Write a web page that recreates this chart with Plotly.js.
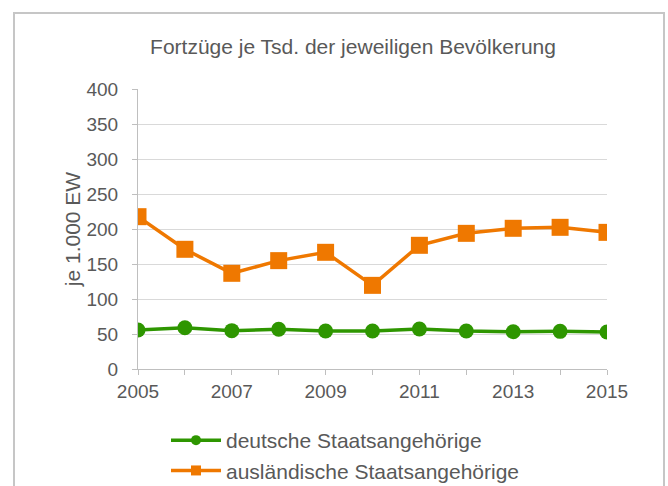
<!DOCTYPE html>
<html>
<head>
<meta charset="utf-8">
<script src="https://cdn.plot.ly/plotly-3.0.1.min.js"></script>
<style>html,body{margin:0;padding:0;background:#fff;}#chart{width:668px;height:486px;}</style>
</head>
<body>
<div id="chart"></div>
<script>
const years = [2005, 2006, 2007, 2008, 2009, 2010, 2011, 2012, 2013, 2014, 2015];
const deutsche = [55.7, 59, 54.8, 56.7, 54.3, 54.3, 57.1, 54.3, 53.3, 53.8, 52.9];
const auslaendische = [217.6, 171, 136.7, 154.8, 166.7, 119.5, 176.7, 193.8, 201, 202.4, 195.2];
const seriesNames = ["deutsche Staatsangehörige", "ausländische Staatsangehörige"];
const chartTitle = "Fortzüge je Tsd. der jeweiligen Bevölkerung";
const yTitle = "je 1.000 EW";
const xTickVals = [2005, 2007, 2009, 2011, 2013, 2015];

const green = "#2e9600";
const orange = "#ef7800";
const font = "Liberation Sans, Arial, sans-serif";
const txt = "#595959";

const traces = [
  {x: years, y: deutsche, mode: "lines+markers", name: seriesNames[0], showlegend: false,
   line: {color: green, width: 3.5}, marker: {symbol: "circle", size: 15, color: green}},
  {x: years, y: auslaendische, mode: "lines+markers", name: seriesNames[1], showlegend: false,
   line: {color: orange, width: 3.5}, marker: {symbol: "square", size: 17, color: orange}},
  {x: [null], y: [null], mode: "lines+markers", name: seriesNames[0],
   line: {color: green, width: 3.5}, marker: {symbol: "circle", size: 10, color: green}},
  {x: [null], y: [null], mode: "lines+markers", name: seriesNames[1],
   line: {color: orange, width: 3.5}, marker: {symbol: "square", size: 10, color: orange}}
];

const W = 469, H = 280;
const layout = {
  width: 668, height: 486,
  margin: {l: 138, r: 61, t: 89, b: 117, pad: 0, autoexpand: false},
  paper_bgcolor: "#ffffff", plot_bgcolor: "#ffffff",
  font: {family: font, color: txt, size: 19},
  title: {text: chartTitle, font: {family: font, size: 21, color: txt},
          x: 353/668, xanchor: "center", y: 1 - 47/486, yanchor: "middle"},
  xaxis: {range: [2005, 2015], tickvals: xTickVals, ticktext: xTickVals.map(String), tickangle: 0,
          showgrid: false, zeroline: false, showline: true, linecolor: "#bfbfbf", linewidth: 1,
          ticks: "outside", ticklen: 5, tickcolor: "#bfbfbf",
          minor: {dtick: 1, ticks: "outside", ticklen: 5, tickcolor: "#bfbfbf", showgrid: false},
          tickfont: {size: 19, color: txt, family: font}},
  yaxis: {range: [0, 400], dtick: 50, tick0: 0, showgrid: true, gridcolor: "#d9d9d9", gridwidth: 1,
          zeroline: false, showline: true, linecolor: "#bfbfbf", linewidth: 1,
          ticks: "outside", ticklen: 5, tickcolor: "#bfbfbf", ticklabelstandoff: 10,
          tickfont: {size: 19, color: txt, family: font},
          title: {text: yTitle, font: {size: 21, color: txt, family: font}, standoff: 0}},
  legend: {orientation: "v", x: (166 - 138) / W, xanchor: "left", y: (369 - 420) / H, yanchor: "top",
           font: {size: 21, color: txt, family: font}, itemwidth: 50, bgcolor: "rgba(0,0,0,0)", tracegroupgap: 0},
  shapes: [{type: "rect", xref: "paper", yref: "paper",
            x0: (14 - 138) / W, x1: (664 - 138) / W, y0: (369 - 495) / H, y1: (369 - 13) / H,
            line: {color: "#c6c6c6", width: 2}, fillcolor: "rgba(0,0,0,0)", layer: "below"}]
};

Plotly.newPlot("chart", traces, layout, {displayModeBar: false, staticPlot: true});
</script>
</body>
</html>
